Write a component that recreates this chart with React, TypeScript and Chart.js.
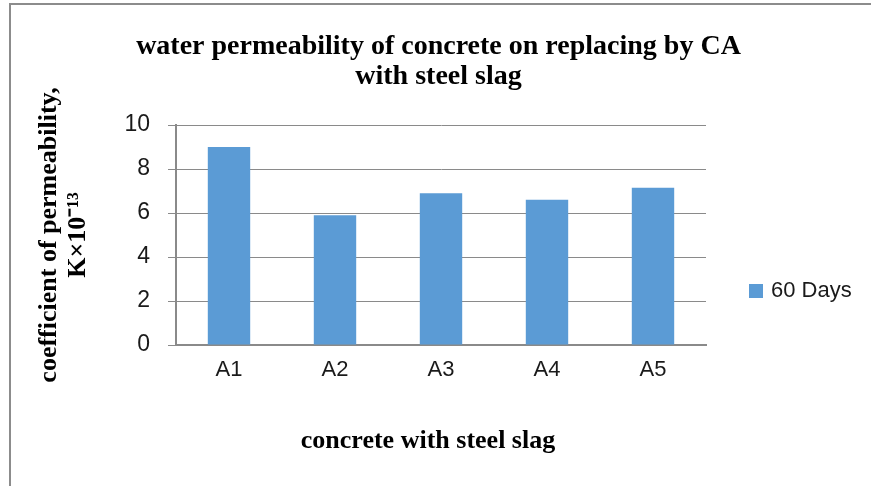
import React, { useEffect, useRef } from "react";
import { Chart, registerables } from "chart.js";

Chart.register(...registerables);

const categories = ["A1", "A2", "A3", "A4", "A5"];
const days60 = [9.0, 5.9, 6.9, 6.6, 7.15];
const seriesLabel = "60 Days";
const yMin = 0;
const yMax = 10;
const yStep = 2;
const titleLines = ["water permeability of concrete on replacing by CA", "with steel slag"];
const yTitleLines = ["coefficient of permeability,", "K×10⁻¹³"];
const xTitle = "concrete with steel slag";

const SERIF = '"Liberation Serif", "Times New Roman", serif';
const SANS = '"Liberation Sans", Arial, sans-serif';
const BAR = "#5B9BD5";
const GRID = "#8a8a8a";
const TEXT = "#1a1a1a";

const extrasPlugin = {
  id: "extras",
  afterDraw(chart: any) {
    const { ctx, chartArea } = chart;
    ctx.save();
    // main title
    ctx.fillStyle = "#000";
    ctx.font = `bold 28px ${SERIF}`;
    ctx.textAlign = "center";
    ctx.textBaseline = "middle";
    const tx = chart.width / 2 + 3;
    titleLines.forEach((line, i) => ctx.fillText(line, tx, 47 + i * 30));
    // x axis title
    ctx.font = `bold 26px ${SERIF}`;
    ctx.textBaseline = "alphabetic";
    ctx.fillText(xTitle, (chartArea.left + chartArea.right) / 2 - 13, chartArea.bottom + 103);
    // legend
    chart.data.datasets.forEach((ds: any, i: number) => {
      const cy = (chartArea.top + chartArea.bottom) / 2 + 56 + i * 26;
      const lx = chartArea.right + 43;
      ctx.fillStyle = ds.backgroundColor;
      ctx.fillRect(lx, cy - 7, 14, 14);
      ctx.fillStyle = TEXT;
      ctx.font = `22px ${SANS}`;
      ctx.textAlign = "left";
      ctx.textBaseline = "middle";
      ctx.fillText(ds.label, lx + 22, cy);
    });
    ctx.restore();
  },
};

export default function App() {
  const ref = useRef<HTMLCanvasElement>(null);
  useEffect(() => {
    const chart = new Chart(ref.current as HTMLCanvasElement, {
      type: "bar",
      data: {
        labels: categories,
        datasets: [
          {
            label: seriesLabel,
            data: days60,
            backgroundColor: BAR,
            barPercentage: 0.4,
            categoryPercentage: 1.0,
          },
        ],
      },
      options: {
        animation: false,
        responsive: false,
        maintainAspectRatio: false,
        layout: { padding: { left: 12, right: 165, top: 125, bottom: 0 } },
        plugins: {
          legend: { display: false },
          tooltip: { enabled: false },
          title: { display: false },
        },
        scales: {
          x: {
            grid: { display: false },
            border: { display: true, color: GRID, width: 2 },
            ticks: { color: TEXT, padding: 4, font: { family: SANS, size: 22 } },
            afterFit: (s: any) => {
              s.height = 141;
            },
          },
          y: {
            min: yMin,
            max: yMax,
            ticks: { stepSize: yStep, color: TEXT, padding: 18, font: { family: SANS, size: 23 } },
            grid: { color: GRID, lineWidth: 1, tickLength: 8, tickColor: GRID },
            border: { display: true, color: GRID, width: 2 },
            title: {
              display: true,
              text: yTitleLines,
              color: "#000",
              padding: { top: 23, bottom: 0 },
              font: { family: SERIF, size: 26, weight: "bold", lineHeight: "29px" },
            },
            afterFit: (s: any) => {
              s.width = 164;
            },
          },
        },
      },
      plugins: [extrasPlugin],
    } as any);
    return () => chart.destroy();
  }, []);
  return (
    <div
      style={{
        position: "fixed",
        left: 0,
        top: 0,
        width: 871,
        height: 486,
        overflow: "hidden",
        background: "#fff",
      }}
    >
      <div
        style={{
          position: "absolute",
          left: 9,
          top: 3,
          width: 900,
          height: 600,
          border: "2px solid #8c8c8c",
          boxSizing: "border-box",
        }}
      />
      <canvas
        ref={ref}
        width={871}
        height={486}
        style={{ position: "absolute", left: 0, top: 0, width: 871, height: 486 }}
      />
    </div>
  );
}
